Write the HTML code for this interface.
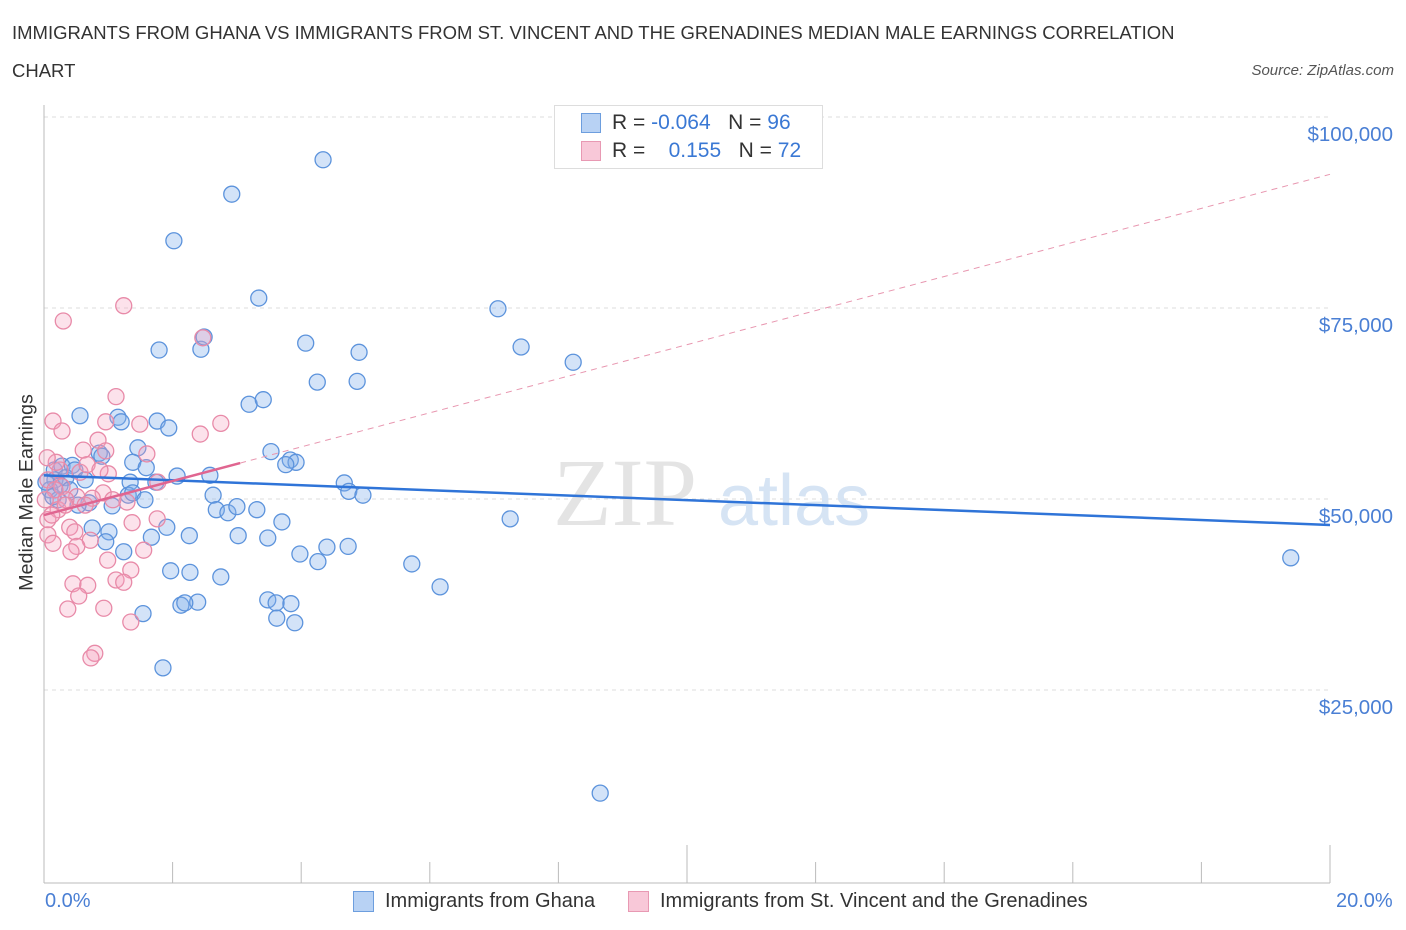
<!DOCTYPE html>
<html><head><meta charset="utf-8"><style>
body{margin:0;background:#fff;font-family:"Liberation Sans",sans-serif;}
#wrap{position:relative;width:1406px;height:930px;}
.t{position:absolute;white-space:nowrap;}
</style></head><body>
<div id="wrap">
<div class="t" style="left:12px;top:14px;font-size:18.5px;color:#333;line-height:38px">IMMIGRANTS FROM GHANA VS IMMIGRANTS FROM ST. VINCENT AND THE GRENADINES MEDIAN MALE EARNINGS CORRELATION<br>CHART</div>
<div class="t" style="right:12px;top:62px;font-size:15px;color:#555;font-style:italic">Source: ZipAtlas.com</div>
<svg id="svg" width="1406" height="930" style="position:absolute;left:0;top:0"></svg>
</div>
<script>
const ghanaX=[4.34,2.92,2.02,3.34,7.06,7.42,8.23,1.79,2.44,2.49,4.07,4.90,4.25,4.87,3.19,3.41,0.56,1.15,1.20,1.76,1.94,1.46,3.53,0.86,0.90,1.38,1.59,3.83,3.92,3.76,2.07,2.58,1.34,1.74,4.67,4.74,4.96,2.63,1.31,1.38,1.57,0.70,1.06,2.68,2.86,3.00,3.31,7.25,3.70,1.91,0.75,1.01,1.67,2.26,3.02,3.48,0.96,1.24,4.40,4.73,3.98,4.26,5.72,1.97,2.27,2.75,6.16,19.39,3.48,3.61,3.84,2.39,2.13,2.19,1.54,3.62,3.90,1.85,8.65,0.16,0.28,0.17,0.44,0.09,0.22,0.34,0.48,0.14,0.25,0.64,0.40,0.03,0.53];
const ghanaY=[94.4,89.9,83.8,76.3,74.9,69.9,67.9,69.5,69.6,71.2,70.4,69.2,65.3,65.4,62.4,63.0,60.9,60.7,60.1,60.2,59.3,56.7,56.2,56.0,55.6,54.8,54.1,55.1,54.8,54.5,53.0,53.1,52.2,52.2,52.1,51.0,50.5,50.5,50.5,50.8,49.9,49.5,49.1,48.6,48.2,49.0,48.6,47.4,47.0,46.3,46.2,45.7,45.0,45.2,45.2,44.9,44.4,43.1,43.7,43.8,42.8,41.8,41.5,40.6,40.4,39.8,38.5,42.3,36.8,36.4,36.3,36.5,36.1,36.4,35.0,34.4,33.8,27.9,11.5,53.8,54.3,52.5,54.4,51.2,49.9,52.8,53.8,50.3,51.8,52.5,51.2,52.2,49.2];
const svgX=[1.24,0.30,2.47,1.12,0.14,2.75,0.28,2.43,0.84,0.96,1.49,0.61,0.96,1.60,1.00,0.56,1.77,0.28,0.51,0.92,1.29,0.22,0.06,1.76,1.37,0.40,0.48,0.72,0.51,0.06,0.14,1.55,0.42,0.99,1.35,1.12,1.24,0.45,0.68,0.54,0.93,0.37,1.35,0.79,0.73,0.06,0.17,0.25,0.02,0.34,0.67,0.75,0.12,0.33,0.87,0.19,0.64,1.07,0.05];
const svgY=[75.3,73.3,71.1,63.4,60.2,59.9,58.9,58.5,57.7,60.1,59.8,56.4,56.3,55.9,53.3,53.5,52.2,51.6,50.3,50.8,49.6,48.6,47.3,47.4,46.9,46.3,45.7,44.6,43.8,45.3,44.2,43.3,43.1,42.0,40.7,39.4,39.1,38.9,38.7,37.3,35.7,35.6,33.9,29.8,29.2,52.5,51.2,53.8,49.9,49.9,54.5,50.1,47.9,49.2,53.8,54.8,49.2,49.9,55.4];
const yTicks=[25,50,75,100];
const yTickLabels=["$25,000","$50,000","$75,000","$100,000"];
const ghanaTrend=[53.1,46.6];
const svgTrend=[47.9,2.23];
const svgSolidEnd=3.05;

const X=p=>44+p*64.3, Y=v=>499-(v-50)*7.64;
const s=document.getElementById('svg'),NS='http://www.w3.org/2000/svg';
function mk(t,a){const e=document.createElementNS(NS,t);for(const k in a)e.setAttribute(k,a[k]);s.appendChild(e);return e;}
yTicks.forEach((v,i)=>{
 const g=mk('line',{x1:44,x2:1330,y1:Y(v),y2:Y(v),stroke:'#ddd','stroke-dasharray':'4,4'});
 
 
 const t=mk('text',{x:1393,y:Y(v)+24,'text-anchor':'end','font-size':20.5,fill:'#4a7fd4'});t.textContent=yTickLabels[i];
 
 
});
mk('line',{x1:44,x2:44,y1:105,y2:883,stroke:'#bbb'});
mk('line',{x1:44,x2:1330,y1:883,y2:883,stroke:'#bbb'});
for(let i=0;i<=10;i++){const l=mk('line',{x1:X(i*2),x2:X(i*2),y1:883,y2:i%5==0?845:862,stroke:'#bbb'});
 
 }
const wm=mk('text',{x:553,y:525,'font-size':96,fill:'#e4e4e4','font-family':'Liberation Serif'});wm.textContent='ZIP';
const wm2=mk('text',{x:718,y:525,'font-size':72,fill:'#d6e4f4'});wm2.textContent='atlas';


ghanaX.forEach((x,i)=>{const c=mk('circle',{cx:X(x),cy:Y(ghanaY[i]),r:8,fill:'rgba(130,175,235,0.35)',stroke:'#5c93dc','stroke-width':1.3});
 
 });
svgX.forEach((x,i)=>{const c=mk('circle',{cx:X(x),cy:Y(svgY[i]),r:8,fill:'rgba(245,160,190,0.3)',stroke:'#e88aa8','stroke-width':1.3});
 
 });
const bt=mk('line',{x1:X(0),x2:X(20),y1:Y(ghanaTrend[0]),y2:Y(ghanaTrend[1]),stroke:'#2f74d8','stroke-width':2.5});

const pt=mk('line',{x1:X(0),x2:X(svgSolidEnd),y1:Y(svgTrend[0]),y2:Y(svgTrend[0]+svgTrend[1]*svgSolidEnd),stroke:'#e06590','stroke-width':2.5});

const pd=mk('line',{x1:X(svgSolidEnd),x2:X(20),y1:Y(svgTrend[0]+svgTrend[1]*svgSolidEnd),y2:Y(svgTrend[0]+svgTrend[1]*20),stroke:'#e897b0','stroke-width':1,'stroke-dasharray':'6,5'});

</script>
<div class="t" style="left:-73px;top:481px;font-size:19.8px;color:#333;transform:rotate(-90deg);width:200px;text-align:center">Median Male Earnings</div>
<div class="t" style="left:45px;top:890px;font-size:20px;color:#4a7fd4">0.0%</div>
<div class="t" style="left:1336px;top:890px;font-size:20px;color:#4a7fd4">20.0%</div>
<div class="t" style="left:554px;top:105px;width:267px;height:62px;border:1px solid #ddd;background:#fff"></div>
<div class="t" style="left:581px;top:113px;width:18px;height:18px;background:#b8d2f4;border:1px solid #6d9ede"></div>
<div class="t" style="left:612px;top:111px;font-size:21px;color:#333">R = <span style="color:#3a78d4">-0.064</span>&nbsp;&nbsp;&nbsp;N = <span style="color:#3a78d4">96</span></div>
<div class="t" style="left:581px;top:141px;width:18px;height:18px;background:#f8c8d8;border:1px solid #e899b3"></div>
<div class="t" style="left:612px;top:139px;font-size:21px;color:#333">R = &nbsp;&nbsp;&nbsp;<span style="color:#3a78d4">0.155</span>&nbsp;&nbsp;&nbsp;N = <span style="color:#3a78d4">72</span></div>
<div class="t" style="left:353px;top:891px;width:19px;height:19px;background:#b8d2f4;border:1px solid #6d9ede"></div>
<div class="t" style="left:385px;top:890px;font-size:20px;color:#333">Immigrants from Ghana</div>
<div class="t" style="left:628px;top:891px;width:19px;height:19px;background:#f8c8d8;border:1px solid #e899b3"></div>
<div class="t" style="left:660px;top:890px;font-size:20px;color:#333">Immigrants from St. Vincent and the Grenadines</div>
</body></html>
